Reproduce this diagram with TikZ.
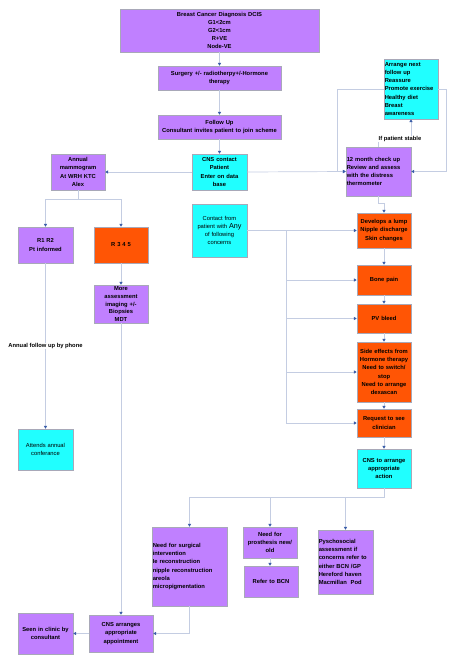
\documentclass[tikz,border=0pt]{standalone}
\usepackage{fontspec}
\setmainfont{Liberation Sans}
\usetikzlibrary{arrows.meta}
\definecolor{pfill}{HTML}{C080FF}
\definecolor{cfill}{HTML}{20FFFF}
\definecolor{ofill}{HTML}{FF5505}
\definecolor{bline}{HTML}{A8A8B8}
\definecolor{cline}{HTML}{C4CDE2}
\definecolor{tipc}{HTML}{3A5DA8}
\tikzset{
  box/.style={draw=bline, line width=0.6pt, align=center, inner xsep=0.5pt, inner ysep=1pt,
     font=\fontsize{5.8}{8.2}\selectfont\bfseries, text=black},
  pbox/.style={box, fill=pfill},
  cbox/.style={box, fill=cfill},
  obox/.style={box, fill=ofill},
  conn/.style={draw=cline, line width=0.7pt, arrows={-Triangle[length=2.8pt,width=3.2pt,color=tipc]}},
  lbl/.style={fill=white, inner sep=0.5pt, font=\fontsize{5.8}{7}\selectfont\bfseries},
  wh/.code 2 args={\pgfmathsetmacro\tmpw{#1-1.5}\pgfkeysalso{minimum width=#1pt, minimum height=#2pt, text width/.expanded=\tmpw pt}},
}
\begin{document}
\begin{tikzpicture}[x=1pt,y=-1pt]
\useasboundingbox (0,0) rectangle (453,657);
% nodes
\node[pbox, wh={199}{43}] (diag) at (219.5,30.5) {Breast Cancer Diagnosis DCIS\\G1<2cm\\G2<1cm\\R+VE\\Node-VE};
\node[pbox, wh={123}{24}] (surg) at (219.5,78) {Surgery +/- radiotherpy+/-Hormone\\therapy};
\node[pbox, wh={123}{24}] (fol) at (219.5,127) {Follow Up\\Consultant invites patient to join scheme};
\node[cbox, wh={55}{36}] (cnsc) at (219.5,172) {CNS contact\\Patient\\Enter on data\\base};
\node[cbox, wh={55}{53}, font=\fontsize{5.8}{8.2}\selectfont\mdseries] (contact) at (219.5,230.5) {Contact from\\patient with {\fontsize{7.2}{8.2}\selectfont Any}\\of following\\concerns};
\node[pbox, wh={54}{36}] (mammo) at (78,172) {Annual\\mammogram\\At WRH KTC\\Alex};
\node[pbox, wh={55}{36}] (r12) at (45.5,245) {R1 R2\\Pt informed};
\node[obox, wh={54}{36}] (r345) at (121,245) {R 3 4 5};
\node[pbox, wh={54}{38}, font=\fontsize{5.8}{7.7}\selectfont\bfseries] (more) at (121,304) {More\\assessment\\imaging +/-\\Biopsies\\MDT};
\node[cbox, wh={55}{41}, font=\fontsize{5.8}{8.2}\selectfont\mdseries] (attends) at (45.5,449.5) {Attends annual\\conferance};
\node[cbox, wh={54}{60}, align=left] (arrange) at (411,89) {Arrange next\\follow up\\Reassure\\Promote exercise\\Healthy diet\\Breast\\awareness};
\node[pbox, wh={65}{49}, align=left] (month) at (378.5,171.5) {12 month check up\\Review and assess\\with the distress\\thermometer};
\node[obox, wh={54}{35}] (lump) at (384,230.5) {Develops a lump\\Nipple discharge\\Skin changes};
\node[obox, wh={54}{30}] (bone) at (384,280) {Bone pain};
\node[obox, wh={54}{29}] (pv) at (384,318.5) {PV bleed};
\node[obox, wh={54}{60}] (side) at (384,372) {Side effects from\\Hormone therapy\\Need to switch/\\stop\\Need to arrange\\dexascan};
\node[obox, wh={54}{28}] (req) at (384,423) {Request to see\\clinician};
\node[cbox, wh={54}{39}] (cnsa) at (384,468.5) {CNS to arrange\\appropriate\\action};
\node[pbox, wh={75}{79}, align=left] (surgint) at (189.5,566.5) {Need for surgical\\intervention\\Ie reconstruction\\nipple reconstruction\\areola\\micropigmentation};
\node[pbox, wh={54}{31}] (prost) at (270,542.5) {Need for\\prosthesis new/\\old};
\node[pbox, wh={54}{31}] (bcn) at (271,581.5) {Refer to BCN};
\node[pbox, wh={55}{64}, align=left] (psych) at (345.5,562) {Pyschosocial\\assessment if\\concerns refer to\\either BCN /GP\\Hereford haven\\Macmillan\ \ Pod};
\node[pbox, wh={64}{37}] (cnsapp) at (121,633.5) {CNS arranges\\appropriate\\appointment};
\node[pbox, wh={55}{41}] (seen) at (45.5,633.5) {Seen in clinic by\\consultant};
% connectors
\draw[conn] (diag.south) -- (surg.north);
\draw[conn] (surg.south) -- (fol.north);
\draw[conn] (fol.south) -- (cnsc.north);
\draw[conn] (cnsc.west) -- (mammo.east);
\draw[conn] (cnsc.east) -- (month.west);
\draw[conn] (mammo.south) -- ++(0,9) -| (r12.north);
\draw[conn] (mammo.south) -- ++(0,9) -| (r345.north);
\draw[conn] (r12.south) -- (attends.north);
\draw[conn] (r345.south) -- (more.north);
\draw[conn] (more.south) -- (cnsapp.north);
\draw[conn] (month.north) -- ++(0,-8) -| (arrange.south);
\draw[conn] (arrange.west) -- ++(-46,0) |- (month.west);
\draw[conn] (arrange.east) -- ++(8,0) |- (month.east);
\draw[conn] (month.south) -- ++(0,7) -| (lump.north);
\draw[conn] (contact.east) -- (lump.west);
\coordinate (tk) at (286,230.5);
\draw[conn] (tk) |- (bone.west);
\draw[conn] (tk) |- (pv.west);
\draw[conn] (tk) |- (side.west);
\draw[conn] (tk) |- (req.west);
\draw[conn] (lump.south) -- (bone.north);
\draw[conn] (bone.south) -- (pv.north);
\draw[conn] (pv.south) -- (side.north);
\draw[conn] (side.south) -- (req.north);
\draw[conn] (req.south) -- (cnsa.north);
\draw[conn] (cnsa.south) -- ++(0,9) -| (surgint.north);
\draw[conn] (cnsa.south) -- ++(0,9) -| (prost.north);
\draw[conn] (cnsa.south) -- ++(0,9) -| (psych.north);
\draw[conn] (prost.south) -- (prost.south |- bcn.north);
\draw[conn] (surgint.south) |- (cnsapp.east);
\draw[conn] (cnsapp.west) -- (seen.east);
% labels
\node[lbl] (stable) at (400,139) {If patient stable};
\node[lbl] (phone) at (45.5,346) {Annual follow up by phone};
\end{tikzpicture}
\end{document}
